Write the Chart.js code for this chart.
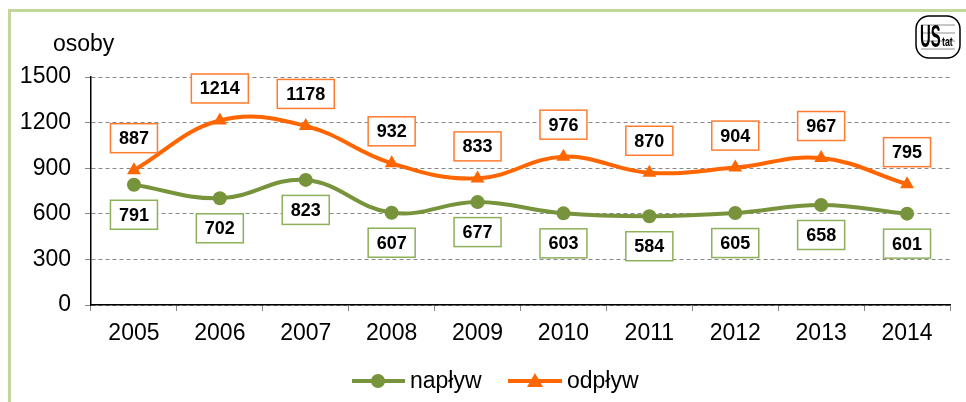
<!DOCTYPE html>
<html>
<head>
<meta charset="utf-8">
<script src="https://cdn.jsdelivr.net/npm/chart.js@4/dist/chart.umd.min.js"></script>
<style>
  html, body { margin: 0; padding: 0; background: #fff; overflow: hidden; }
  canvas { display: block; }
</style>
</head>
<body>
<canvas id="myChart" width="966" height="402"></canvas>
<script>
const years = ['2005', '2006', '2007', '2008', '2009', '2010', '2011', '2012', '2013', '2014'];
const naplyw = [791, 702, 823, 607, 677, 603, 584, 605, 658, 601];
const odplyw = [887, 1214, 1178, 932, 833, 976, 870, 904, 967, 795];
const yTicks = [0, 300, 600, 900, 1200, 1500];

const green = '#77933c';
const orange = '#ff6600';
const font = 'Arial, "Liberation Sans", sans-serif';

// frame, unit label, logo, legend
const decor = {
    id: 'decor',
    beforeDraw(chart) {
        const c = chart.ctx;
        c.save();
        c.fillStyle = '#fff';
        c.fillRect(0, 0, chart.width, chart.height);
        c.strokeStyle = '#c3d69b';
        c.lineWidth = 3;
        c.beginPath();
        c.moveTo(9.5, chart.height);
        c.lineTo(9.5, 10.5);
        c.lineTo(chart.width, 10.5);
        c.stroke();
        c.restore();
    },
    afterDraw(chart) {
        const c = chart.ctx;
        c.save();
        c.fillStyle = '#000';
        c.font = '23px ' + font;
        c.textBaseline = 'middle';
        c.textAlign = 'left';
        c.fillText('osoby', 53, 45);

        // logo
        c.strokeStyle = '#000';
        c.lineWidth = 1.5;
        c.beginPath();
        c.roundRect(916, 16, 44, 42, 13);
        c.stroke();
        c.lineWidth = 0.6;
        c.strokeStyle = '#444';
        for (let i = 0; i < 4; i++) {
            c.beginPath();
            c.moveTo(921, 25 + i * 8);
            c.lineTo(955, 25 + i * 8);
            c.stroke();
        }
        c.save();
        c.translate(920, 38);
        c.scale(0.62, 1.3);
        c.font = 'bold 24px ' + font;
        c.fillStyle = '#000';
        c.fillText('US', 0, 0);
        c.restore();
        c.save();
        c.translate(942, 42);
        c.scale(0.8, 1.2);
        c.font = 'bold 11px ' + font;
        c.fillText('tat', 0, 0);
        c.restore();

        // legend
        c.font = '23px ' + font;
        const ly = 381;
        c.lineWidth = 4;
        c.strokeStyle = green;
        c.beginPath(); c.moveTo(352, ly); c.lineTo(405, ly); c.stroke();
        c.fillStyle = green;
        c.beginPath(); c.arc(378, ly, 7, 0, Math.PI * 2); c.fill();
        c.fillStyle = '#000';
        c.fillText('napływ', 410, ly + 1);
        c.strokeStyle = orange;
        c.beginPath(); c.moveTo(508, ly); c.lineTo(562, ly); c.stroke();
        c.fillStyle = orange;
        c.beginPath(); c.moveTo(535, ly - 8); c.lineTo(543, ly + 6); c.lineTo(527, ly + 6); c.closePath(); c.fill();
        c.fillStyle = '#000';
        c.fillText('odpływ', 567, ly + 1);
        c.restore();
    }
};

// boxed value labels
const boxLabels = {
    id: 'boxLabels',
    afterDatasetsDraw(chart) {
        const c = chart.ctx;
        c.save();
        c.font = 'bold 18px ' + font;
        c.textAlign = 'center';
        c.textBaseline = 'middle';
        chart.data.datasets.forEach((ds, i) => {
            const meta = chart.getDatasetMeta(i);
            const off = ds.labelOffset;
            meta.data.forEach((pt, j) => {
                const txt = String(ds.data[j]);
                const w = txt.length > 3 ? 57 : 47;
                const h = 29;
                const cx = pt.x, cy = pt.y + off;
                c.fillStyle = '#fff';
                c.fillRect(cx - w / 2, cy - h / 2, w, h);
                c.strokeStyle = ds.boxColor;
                c.lineWidth = 1.5;
                c.strokeRect(cx - w / 2, cy - h / 2, w, h);
                c.fillStyle = '#000';
                c.fillText(txt, cx, cy + 1);
            });
        });
        c.restore();
    }
};

const ctx = document.getElementById('myChart').getContext('2d');
let myChart = new Chart(ctx, {
    type: 'line',
    data: {
        labels: years,
        datasets: [{
            label: 'napływ',
            data: naplyw,
            borderColor: green,
            backgroundColor: green,
            borderWidth: 4,
            pointStyle: 'circle',
            pointRadius: 7,
            pointBorderWidth: 0,
            tension: 0.4,
            labelOffset: 30,
            boxColor: '#8eb05a'
        }, {
            label: 'odpływ',
            data: odplyw,
            borderColor: orange,
            backgroundColor: orange,
            borderWidth: 4,
            pointStyle: 'triangle',
            pointRadius: 8,
            pointBorderWidth: 0,
            tension: 0.4,
            labelOffset: -32,
            boxColor: '#ff7b2e'
        }]
    },
    options: {
        responsive: false,
        animation: false,
        layout: { padding: { left: 10, top: 77, right: 16, bottom: 0 } },
        plugins: {
            legend: { display: false },
            tooltip: { enabled: false }
        },
        scales: {
            x: {
                offset: true,
                grid: {
                    offset: true,
                    drawOnChartArea: false,
                    drawTicks: true,
                    tickLength: 6,
                    tickColor: '#888'
                },
                border: { color: '#000', width: 1.5 },
                ticks: { color: '#000', font: { size: 23, family: font }, padding: 9, maxRotation: 0 },
                afterFit(scale) { scale.height = 97; }
            },
            y: {
                min: 0,
                max: 1500,
                afterBuildTicks(scale) { scale.ticks = yTicks.map(v => ({ value: v })); },
                grid: {
                    color: '#888',
                    lineWidth: 1,
                    tickLength: 6,
                    tickColor: '#888',
                    tickBorderDash: [],
                    drawTicks: true
                },
                border: { color: '#000', width: 1.5, dash: [4, 3] },
                ticks: {
                    color: '#000',
                    font: { size: 23, family: font },
                    padding: 14,
                    callback: v => String(v)
                },
                afterFit(scale) { scale.width = 81; }
            }
        }
    },
    plugins: [decor, boxLabels]
});
</script>
</body>
</html>
